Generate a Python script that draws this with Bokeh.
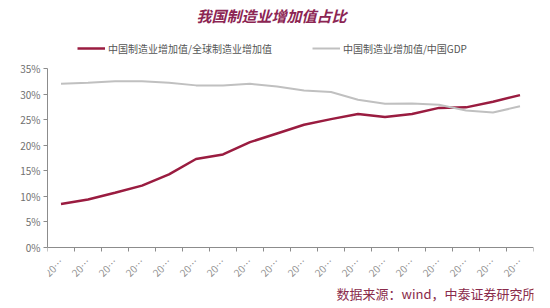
import math
from bokeh.plotting import figure
from bokeh.models import (Range1d, FixedTicker, Legend, LegendItem, Label,
                          NumeralTickFormatter, CustomJSTickFormatter)
from bokeh.embed import file_html
from bokeh.resources import INLINE

years = [str(y) for y in range(2004, 2022)]
tick_labels = ["20\u2026"] * len(years)
share_global = [8.5, 9.4, 10.7, 12.1, 14.3, 17.3, 18.2, 20.6, 22.3, 24.0,
                25.1, 26.1, 25.5, 26.1, 27.3, 27.4, 28.5, 29.8]
share_gdp = [32.0, 32.2, 32.5, 32.5, 32.2, 31.7, 31.7, 32.0, 31.5, 30.7,
             30.4, 28.9, 28.1, 28.15, 27.9, 26.8, 26.4, 27.6]
series_names = ["中国制造业增加值/全球制造业增加值", "中国制造业增加值/中国GDP"]
title_text = "我国制造业增加值占比"
source_text = "数据来源：wind，中泰证券研究所"

FONT = "Noto Sans CJK SC"
RED = "#9a1c40"
GRAY = "#c0c0c0"

xs = [i + 0.5 for i in range(len(years))]
y1 = [v / 100 for v in share_global]
y2 = [v / 100 for v in share_gdp]

# frame spans the whole canvas height; value axis covers 0..35% (canvas y 247..68)
PX = 0.35 / 179
p = figure(width=550, height=308, output_backend="svg", toolbar_location=None,
           x_range=Range1d(0, len(years)),
           y_range=Range1d(-(308 - 247) * PX, 247 * PX),
           min_border_left=47, min_border_right=17, min_border_top=0,
           min_border_bottom=0, title=None)
p.outline_line_color = None
p.xgrid.visible = False
p.ygrid.visible = False
p.background_fill_color = "white"
p.border_fill_color = "white"

r1 = p.line(xs, y1, line_color=RED, line_width=2.5)
r2 = p.line(xs, y2, line_color=GRAY, line_width=2)

# y axis
p.yaxis.ticker = FixedTicker(ticks=[0, 0.05, 0.10, 0.15, 0.20, 0.25, 0.30, 0.35])
p.yaxis.bounds = (0, 0.35)
p.yaxis.formatter = NumeralTickFormatter(format="0%")
p.yaxis.axis_line_color = "#8c8c8c"
p.yaxis.major_tick_line_color = "#8c8c8c"
p.yaxis.major_tick_out = 4
p.yaxis.major_tick_in = 0
p.yaxis.minor_tick_line_color = None
p.yaxis.major_label_text_font = FONT
p.yaxis.major_label_text_font_size = "10px"
p.yaxis.major_label_text_color = "#707070"
p.yaxis.major_label_standoff = 3

# x axis at value 0: labels at category centres, tick marks at boundaries
p.xaxis.fixed_location = 0
p.xaxis.ticker = FixedTicker(ticks=xs, minor_ticks=list(range(len(years) + 1)))
p.xaxis.formatter = CustomJSTickFormatter(
    args=dict(labels=tick_labels),
    code="return labels[Math.floor(tick)];")
p.xaxis.axis_line_color = "#8c8c8c"
p.xaxis.major_tick_line_color = None
p.xaxis.minor_tick_line_color = "#8c8c8c"
p.xaxis.minor_tick_out = 4
p.xaxis.minor_tick_in = 0
p.xaxis.major_label_orientation = math.pi / 4
p.xaxis.major_label_text_font = FONT
p.xaxis.major_label_text_font_size = "10px"
p.xaxis.major_label_text_color = "#909090"
p.xaxis.major_label_standoff = 6

# legend above the 35% line
legend = Legend(items=[LegendItem(label=series_names[0], renderers=[r1]),
                       LegendItem(label=series_names[1], renderers=[r2])],
                orientation="horizontal", location=(30, 252),
                label_text_font=FONT, label_text_font_size="10px",
                label_text_color="#555555", glyph_width=28, glyph_height=16,
                label_height=16, label_standoff=3, spacing=40, padding=0,
                margin=0, border_line_color=None, background_fill_alpha=0)
p.add_layout(legend, "center")

# title
p.add_layout(Label(x=224, y=293, x_units="screen", y_units="screen",
                   text=title_text, text_font=FONT, text_font_size="15px",
                   text_font_style="bold italic", text_color="#8c2553",
                   text_align="center", text_baseline="middle"))

# source
p.add_layout(Label(x=488, y=15, x_units="screen", y_units="screen",
                   text=source_text, text_font=FONT, text_font_size="13px",
                   text_color="#8a2b4b", text_align="right",
                   text_baseline="middle"))

open("out.html", "w").write(file_html(p, INLINE))
